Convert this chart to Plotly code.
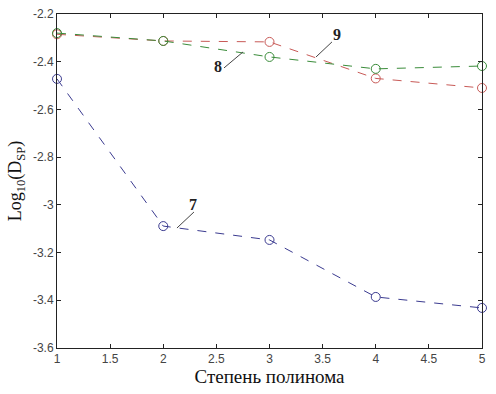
import plotly.graph_objects as go

degree = [1, 2, 3, 4, 5]
curve7 = [-2.472, -3.089, -3.147, -3.386, -3.432]   # blue
curve8 = [-2.280, -2.313, -2.380, -2.430, -2.418]   # green
curve9 = [-2.285, -2.313, -2.317, -2.470, -2.510]   # red

x_ticks = [1, 1.5, 2, 2.5, 3, 3.5, 4, 4.5, 5]
y_ticks = [-3.6, -3.4, -3.2, -3.0, -2.8, -2.6, -2.4, -2.2]
y_tick_text = ["-3.6", "-3.4", "-3.2", "-3", "-2.8", "-2.6", "-2.4", "-2.2"]

series = [
    (curve9, "#c85a57"),
    (curve8, "#3a8c3a"),
    (curve7, "#3b3b90"),
]

fig = go.Figure()
for ys, col in series:
    fig.add_trace(go.Scatter(
        x=degree, y=ys, mode="lines+markers",
        line=dict(color=col, width=1, dash="dash"),
        marker=dict(symbol="circle-open", size=9, color=col, line=dict(width=1, color=col)),
        showlegend=False, cliponaxis=False, hoverinfo="skip",
    ))

# labels with leader lines
labels = [
    ("9", 3.635, -2.288, 3.438, -2.380, 3.588, -2.317),
    ("8", 2.515, -2.422, 2.572, -2.426, 2.751, -2.359),
    ("7", 2.28, -3.000, 2.129, -3.097, 2.289, -3.030),
]
for t, lx, ly, x0, y0, x1, y1 in labels:
    fig.add_annotation(x=lx, y=ly, text="<b>%s</b>" % t, showarrow=False,
                       font=dict(family="Liberation Serif, Times New Roman, serif", size=16, color="#222"))
    fig.add_shape(type="line", x0=x0, y0=y0, x1=x1, y1=y1,
                  line=dict(color="#444", width=1))

fig.update_layout(
    width=496, height=394,
    margin=dict(l=57, r=14, t=14, b=46, autoexpand=False),
    paper_bgcolor="white", plot_bgcolor="white",
    font=dict(family="Liberation Sans, Arial, sans-serif", size=12, color="#444"),
)
fig.update_xaxes(
    range=[1, 5], tickvals=x_ticks, ticks="inside", ticklen=4, tickcolor="#222",
    showline=True, linecolor="#222", linewidth=1, mirror="allticks",
    showgrid=False, zeroline=False, automargin=False,
    title=dict(text="Степень полинома", standoff=3,
               font=dict(family="Liberation Serif, Times New Roman, serif", size=19, color="#111")),
)
fig.update_yaxes(
    range=[-3.6, -2.2], tickvals=y_ticks, ticktext=y_tick_text, ticks="inside", ticklen=4, tickcolor="#222",
    showline=True, linecolor="#222", linewidth=1, mirror="allticks",
    showgrid=False, zeroline=False, automargin=False,
    title=dict(text="Log<sub>10</sub>(D<sub>SP</sub>)", standoff=6,
               font=dict(family="Liberation Serif, Times New Roman, serif", size=18, color="#111")),
)

fig.write_html("out.html", config={"displayModeBar": False},
               post_script="document.body.style.margin='0';document.body.style.overflow='hidden';")
